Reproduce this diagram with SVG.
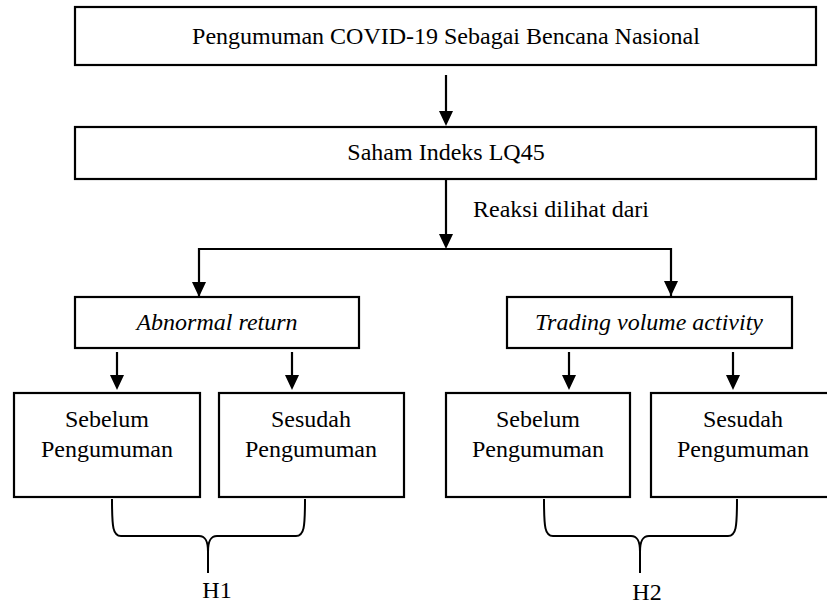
<svg xmlns="http://www.w3.org/2000/svg" width="827" height="605" viewBox="0 0 827 605">
<defs>
<style>
.box{fill:#fff;stroke:#000;stroke-width:2.2}
.t{font-family:'Liberation Serif','Times New Roman','DejaVu Serif',serif;font-size:24px;fill:#000;text-anchor:middle}
.i{font-style:italic}
.ln{fill:none;stroke:#000;stroke-width:2.2}
.br{fill:none;stroke:#000;stroke-width:2}
</style>
</defs>
<rect width="827" height="605" fill="#fff"/>
<g font-family="Liberation Serif, Times New Roman, serif" font-size="24">
<g id="n-pengumuman"><rect class="box" x="75" y="7" width="741" height="58"/><text class="t" font-family="Liberation Serif" x="446" y="44">Pengumuman COVID-19 Sebagai Bencana Nasional</text></g>
<g id="n-saham"><rect class="box" x="75" y="127" width="741" height="52"/><text class="t" font-family="Liberation Serif" x="446" y="160">Saham Indeks LQ45</text></g>
<g id="n-abnormal"><rect class="box" x="75" y="297" width="284" height="51"/><text class="t i" font-family="Liberation Serif" x="217" y="330">Abnormal return</text></g>
<g id="n-trading"><rect class="box" x="507" y="297" width="285" height="51"/><text class="t i" font-family="Liberation Serif" x="649" y="330">Trading volume activity</text></g>
<g id="n-ar-sebelum"><rect class="box" x="14" y="393" width="186" height="104"/><text class="t" font-family="Liberation Serif" x="107" y="427">Sebelum</text><text class="t" font-family="Liberation Serif" x="107" y="457">Pengumuman</text></g>
<g id="n-ar-sesudah"><rect class="box" x="219" y="393" width="185" height="104"/><text class="t" font-family="Liberation Serif" x="311" y="427">Sesudah</text><text class="t" font-family="Liberation Serif" x="311" y="457">Pengumuman</text></g>
<g id="n-tv-sebelum"><rect class="box" x="446" y="393" width="184" height="104"/><text class="t" font-family="Liberation Serif" x="538" y="427">Sebelum</text><text class="t" font-family="Liberation Serif" x="538" y="457">Pengumuman</text></g>
<g id="n-tv-sesudah"><rect class="box" x="651" y="393" width="185" height="104"/><text class="t" font-family="Liberation Serif" x="743" y="427">Sesudah</text><text class="t" font-family="Liberation Serif" x="743" y="457">Pengumuman</text></g>
<g id="n-h1"><text class="t" font-family="Liberation Serif" x="217" y="598">H1</text></g>
<g id="n-h2"><text class="t" font-family="Liberation Serif" x="647" y="600">H2</text></g>
<g id="n-label"><text class="t" font-family="Liberation Serif" x="561" y="217">Reaksi dilihat dari</text></g>
</g>
<g id="connectors">
<path class="ln" d="M446,75 L446,111"/>
<path d="M439,111 L453,111 L446,126 Z"/>
<path class="ln" d="M446,179 L446,235"/>
<path d="M439,234 L453,234 L446,249 Z"/>
<path class="ln" d="M199,297 L199,249 L671,249 L671,297"/>
<path d="M192,282 L206,282 L199,297 Z"/>
<path d="M664,281 L678,281 L671,296 Z"/>
<path class="ln" d="M117,352 L117,376"/>
<path d="M110,375 L124,375 L117,390 Z"/>
<path class="ln" d="M292,352 L292,376"/>
<path d="M285,375 L299,375 L292,390 Z"/>
<path class="ln" d="M569,352 L569,376"/>
<path d="M562,375 L576,375 L569,390 Z"/>
<path class="ln" d="M733,352 L733,376"/>
<path d="M726,375 L740,375 L733,390 Z"/>
<path class="br" d="M112,499 C112,528 113,536 121,536 L199,536 C205,536 208,540 208,552 L208,573 M208,552 C208,540 211,536 217,536 L296,536 C304,536 305,528 305,499"/>
<path class="br" d="M544,499 C544,528 545,536 553,536 L631,536 C637,536 640,540 640,552 L640,573 M640,552 C640,540 643,536 649,536 L728,536 C736,536 737,528 737,499"/>
</g>
</svg>
